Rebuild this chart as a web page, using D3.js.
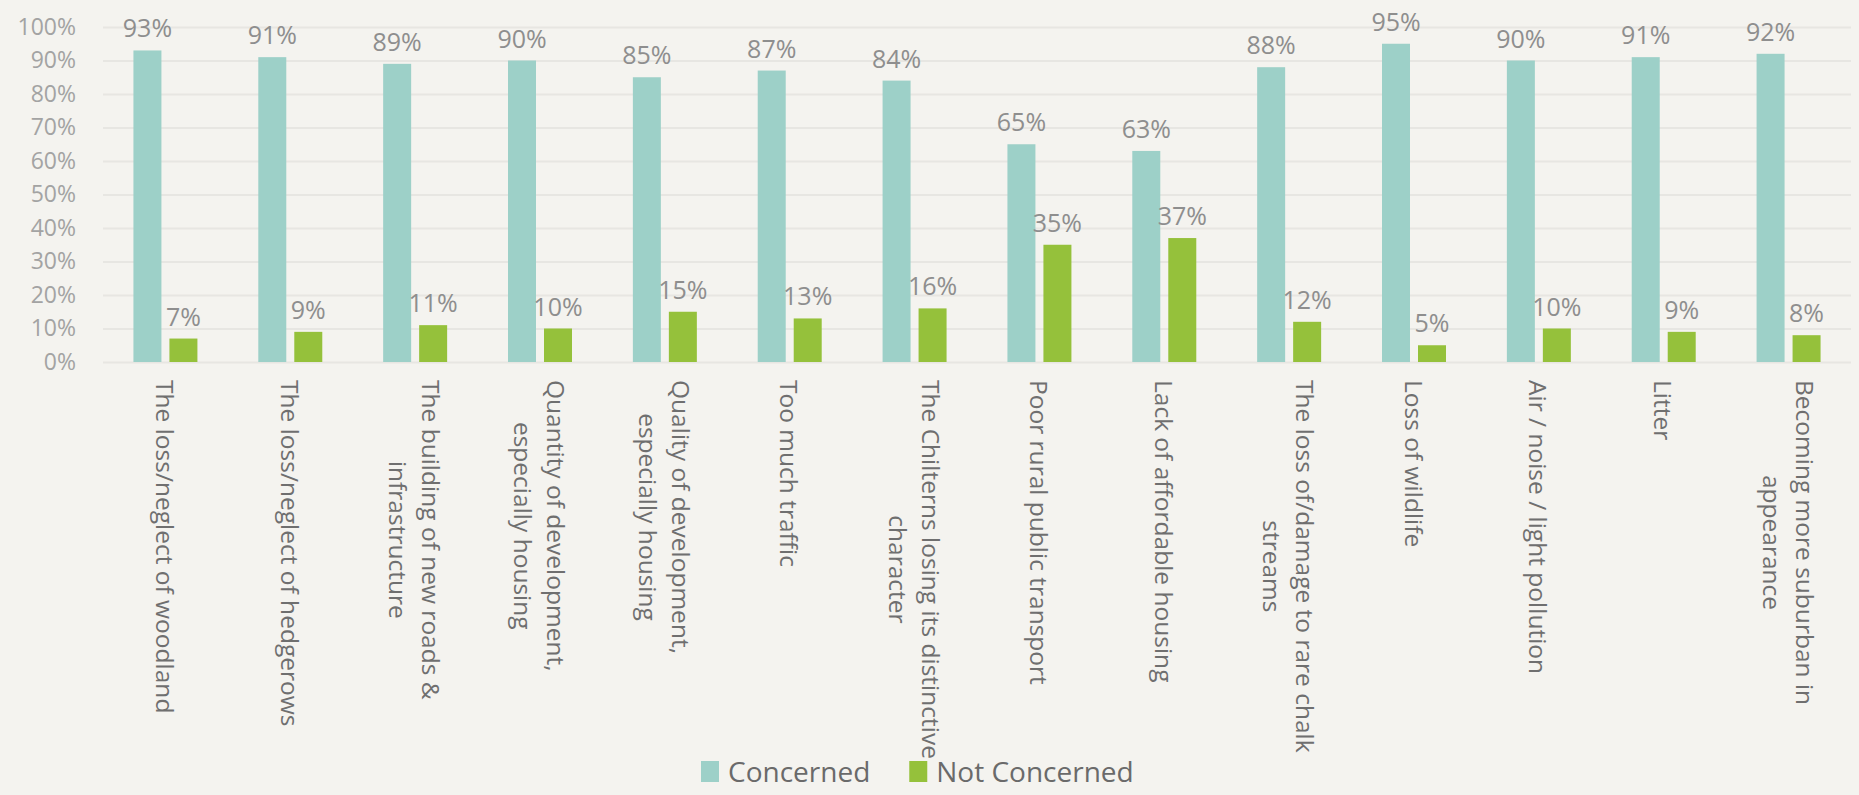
<html>
<head>
  <meta charset="utf-8" />
  <script src="https://cdnjs.cloudflare.com/ajax/libs/d3/7.8.5/d3.min.js"></script>
  <style>
    body { margin: 0; background: #f4f3ef; }
    svg { display: block; }
  </style>
</head>
<body>
  <svg id="chart"></svg>
<script>

  // categories, each split into the lines shown under the axis
  var categories = [
    ["The loss/neglect of woodland"],
    ["The loss/neglect of hedgerows"],
    ["The building of new roads &", "infrastructure"],
    ["Quantity of development,", "especially housing"],
    ["Quality of development,", "especially housing"],
    ["Too much traffic"],
    ["The Chilterns losing its distinctive", "character"],
    ["Poor rural public transport"],
    ["Lack of affordable housing"],
    ["The loss of/damage to rare chalk", "streams"],
    ["Loss of wildlife"],
    ["Air / noise / light pollution"],
    ["Litter"],
    ["Becoming more suburban in", "appearance"]
  ];
  var concerned    = [93, 91, 89, 90, 85, 87, 84, 65, 63, 88, 95, 90, 91, 92];
  var notConcerned = [7, 9, 11, 10, 15, 13, 16, 35, 37, 12, 5, 10, 9, 8];
  var seriesNames  = ["Concerned", "Not Concerned"];
  var yTicks       = [0, 10, 20, 30, 40, 50, 60, 70, 80, 90, 100];

  var colors = {"Concerned": "#9dd0c8", "Not Concerned": "#95c13b"};

  var W = 1859, H = 795;
  var plotL = 103, plotR = 1851, plotT = 27, plotB = 362;

  var svg = d3.select("#chart").attr("width", W).attr("height", H);

  var idx = d3.range(categories.length);
  var x0 = d3.scaleBand().domain(idx).range([plotL, plotR])
              .paddingInner(0.4875).paddingOuter(0.24375);
  var x1 = d3.scaleBand().domain(seriesNames).range([0, x0.bandwidth()])
              .paddingInner(8 / 36);
  var y  = d3.scaleLinear().domain([0, 100]).range([plotB, plotT]);

  // gridlines + tick labels
  var yAxis = d3.axisLeft(y).tickValues(yTicks)
                .tickSize(-(plotR - plotL)).tickFormat(d => d + "%");
  var gy = svg.append("g").attr("transform", "translate(" + plotL + ",0)").call(yAxis);
  gy.select(".domain").remove();
  gy.selectAll(".tick line").attr("stroke", "#e7e6e2").attr("stroke-width", 2);
  gy.selectAll(".tick text")
    .attr("x", -27)
    .attr("fill", "#a3a3a3")
    .style("font-family", "'Open Sans', sans-serif")
    .style("font-size", "23px");

  // bars
  var rows = idx.map(i => ({i: i, vals: [
    {key: "Concerned", v: concerned[i]},
    {key: "Not Concerned", v: notConcerned[i]}
  ]}));

  var groups = svg.append("g").selectAll("g")
    .data(rows).enter().append("g")
      .attr("transform", d => "translate(" + x0(d.i) + ",0)");

  groups.selectAll("rect")
    .data(d => d.vals).enter().append("rect")
      .attr("x", d => x1(d.key))
      .attr("y", d => y(d.v))
      .attr("width", x1.bandwidth())
      .attr("height", d => plotB - y(d.v))
      .attr("fill", d => colors[d.key]);

  groups.selectAll("text.val")
    .data(d => d.vals).enter().append("text")
      .attr("class", "val")
      .attr("x", d => x1(d.key) + x1.bandwidth() / 2)
      .attr("y", d => y(d.v) - 13)
      .attr("text-anchor", "middle")
      .attr("fill", "#8e8e8e")
      .style("font-family", "'Open Sans', sans-serif")
      .style("font-size", "25px")
      .text(d => d.v + "%");

  // category labels, rotated to read downwards
  var lineH = 33;
  categories.forEach(function(lines, i) {
    var cx = x0(i) + x0.bandwidth() / 2;
    var t = svg.append("text")
      .attr("transform", "translate(" + cx + ",380) rotate(90)")
      .attr("fill", "#6f6f6f")
      .style("font-family", "'Open Sans', sans-serif")
      .style("font-size", "24.5px");
    var spans = lines.map(function(s, k) {
      return t.append("tspan")
        .attr("y", (k - (lines.length - 1) / 2) * lineH)
        .attr("dominant-baseline", "central")
        .text(s);
    });
    var lens = spans.map(s => s.node().getComputedTextLength());
    var maxLen = d3.max(lens);
    spans.forEach((s, k) => s.attr("x", (maxLen - lens[k]) / 2));
  });

  // legend
  var legend = svg.append("g");
  var lx = 701;
  seriesNames.forEach(function(name) {
    legend.append("rect")
      .attr("x", lx).attr("y", 761).attr("width", 18).attr("height", 21)
      .attr("fill", colors[name]);
    var txt = legend.append("text")
      .attr("x", lx + 27).attr("y", 782)
      .attr("fill", "#6a6a6a")
      .style("font-family", "'Open Sans', sans-serif")
      .style("font-size", "28px")
      .text(name);
    lx += 27 + txt.node().getComputedTextLength() + 39;
  });

</script>
</body>
</html>
